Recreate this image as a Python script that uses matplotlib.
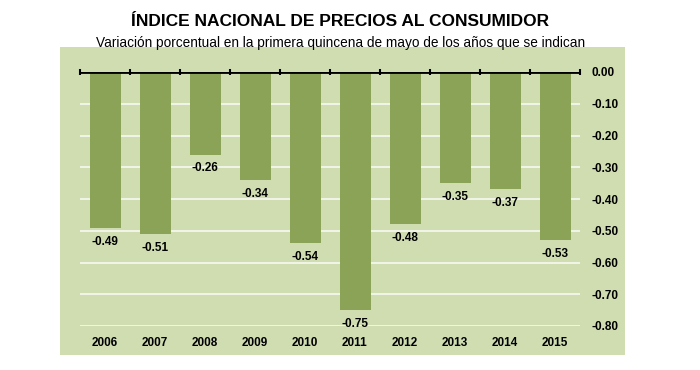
import numpy as np
import matplotlib
matplotlib.use("Agg")
import matplotlib.pyplot as plt
from matplotlib.patches import Rectangle

plt.rcParams['font.family'] = ['Liberation Sans', 'DejaVu Sans']

years = ["2006", "2007", "2008", "2009", "2010", "2011", "2012", "2013", "2014", "2015"]
values = [-0.49, -0.51, -0.26, -0.34, -0.54, -0.75, -0.48, -0.35, -0.37, -0.53]
yticks = [0.0, -0.1, -0.2, -0.3, -0.4, -0.5, -0.6, -0.7, -0.8]

bg = "#d0ddb1"
bar_color = "#8ba356"

fig = plt.figure(figsize=(7, 3.7), dpi=100)
# green panel behind the plot
fig.patches.append(Rectangle((60 / 700, 1 - 355 / 370), 565 / 700, 308 / 370,
                             transform=fig.transFigure, facecolor=bg, edgecolor="none", zorder=-5))

fig.text(340 / 700, 1 - 22 / 370, "ÍNDICE NACIONAL DE PRECIOS AL CONSUMIDOR",
         ha="center", va="center", fontsize=12.5, fontweight="bold")
fig.text(341 / 700, 1 - 43 / 370, "Variación porcentual en la primera quincena de mayo de los años que se indican",
         ha="center", va="center", fontsize=9.8)

ax = fig.add_axes([80 / 700, 1 - 326 / 370, 500 / 700, 254 / 370])
ax.set_facecolor("none")
x = np.arange(len(years))
ax.bar(x, values, width=0.62, color=bar_color, zorder=2)

for xi, v in zip(x, values):
    ax.text(xi, v - 0.025, f"{v:.2f}", ha="center", va="top", fontsize=8.5, fontweight="bold")

for yt in yticks[1:]:
    ax.axhline(yt, color="white", lw=1.1, alpha=0.9, zorder=1)
ax.axhline(0, color="black", lw=2, zorder=3)
ax.vlines(np.arange(len(years) + 1) - 0.5, -0.01, 0.008, color="black", lw=1.5, zorder=3, clip_on=False)

ax.set_xlim(-0.5, len(years) - 0.5)
ax.set_ylim(-0.8, 0.0)
ax.set_xticks(x)
ax.set_xticklabels(years, fontsize=8.5, fontweight="bold")
ax.tick_params(axis="x", length=0, pad=8)
ax.yaxis.tick_right()
ax.set_yticks(yticks)
ax.set_yticklabels([f"{t:.2f}" for t in yticks], fontsize=8.5, fontweight="bold")
ax.tick_params(axis="y", length=0, pad=8)
for s in ax.spines.values():
    s.set_visible(False)

fig.savefig("out.png", dpi=100)
